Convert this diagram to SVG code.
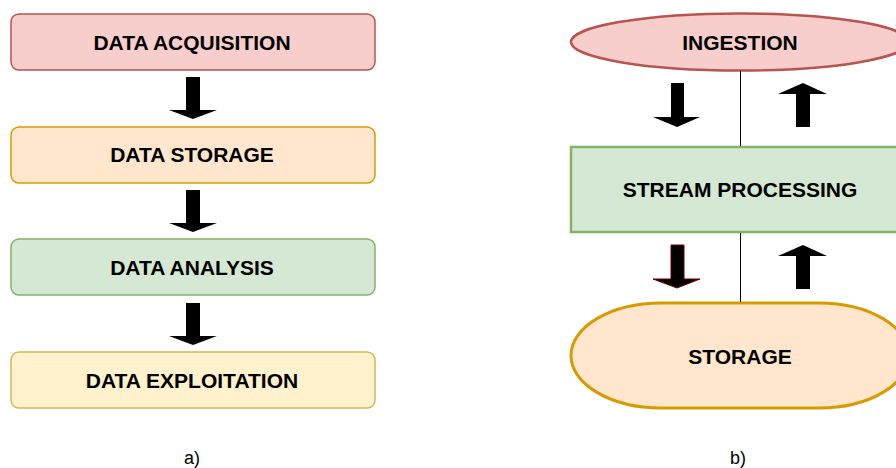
<svg xmlns="http://www.w3.org/2000/svg" width="896" height="468" viewBox="0 0 896 468">
  <style>
    .lbl { font-family: "Liberation Sans", Arial, sans-serif; font-size: 21px; font-weight: bold; fill: #000; text-anchor: middle; }
    .cap { font-family: "Liberation Sans", Arial, sans-serif; font-size: 18px; fill: #000; text-anchor: middle; }
    .box { stroke-width: 1.5; }
    .arrow { fill: #000; }
    .link { stroke: #000; stroke-width: 1; fill: none; }
  </style>
  <rect width="896" height="468" fill="#fff"/>

  <!-- a) linear pipeline -->
  <g id="data-acquisition">
    <rect class="box" x="11" y="14" width="364" height="56" rx="8" fill="#f8cecc" stroke="#b85450"/>
    <text class="lbl" x="192" y="50">DATA ACQUISITION</text>
  </g>
  <g id="data-storage">
    <rect class="box" x="11" y="127" width="364" height="56" rx="8" fill="#ffe6cc" stroke="#d79b00"/>
    <text class="lbl" x="192" y="162">DATA STORAGE</text>
  </g>
  <g id="data-analysis">
    <rect class="box" x="11" y="239" width="364" height="56" rx="8" fill="#d5e8d4" stroke="#82b366"/>
    <text class="lbl" x="192" y="275">DATA ANALYSIS</text>
  </g>
  <g id="data-exploitation">
    <rect class="box" x="11" y="352" width="364" height="56" rx="8" fill="#fff2cc" stroke="#d6b656"/>
    <text class="lbl" x="192" y="387.5">DATA EXPLOITATION</text>
  </g>
  <text class="cap" x="192" y="464">a)</text>

  <!-- b) streaming loop -->
  <g id="ingestion">
    <ellipse cx="740" cy="42" rx="169" ry="28.5" fill="#f8cecc" stroke="#b85450" stroke-width="2.5"/>
    <text class="lbl" x="740" y="50">INGESTION</text>
  </g>
  <g id="stream-processing">
    <rect x="571" y="147" width="338" height="85" fill="#d5e8d4" stroke="#82b366" stroke-width="2.5"/>
    <text class="lbl" x="740" y="197">STREAM PROCESSING</text>
  </g>
  <g id="storage">
    <rect x="571" y="303" width="338" height="105" rx="90" ry="52.5" fill="#ffe6cc" stroke="#d79b00" stroke-width="3"/>
    <text class="lbl" x="740" y="363.5">STORAGE</text>
  </g>
  <text class="cap" x="738" y="464">b)</text>

  <g id="connectors">
    <!-- block arrows of the pipeline -->
    <polygon class="arrow" points="186,77 200,77 200,110 217,110 193,119 169,110 186,110"/>
    <polygon class="arrow" points="186,190 200,190 200,223 217,223 193,232 169,223 186,223"/>
    <polygon class="arrow" points="186,303 200,303 200,336 217,336 193,345 169,336 186,336"/>

    <!-- links between streaming stages -->
    <line class="link" x1="740.5" y1="70.5" x2="740.5" y2="146"/>
    <line class="link" x1="740.5" y1="233" x2="740.5" y2="302"/>

    <!-- data flow arrows -->
    <polygon class="arrow" points="671,83 684,83 684,117 700,117 677,127 653,117 671,117"/>
    <polygon class="arrow" points="803,83 827,94 810,94 810,127 796,127 796,94 778,94"/>
    <polygon class="arrow" stroke="#6f0000" stroke-width="1" points="671,245 684,245 684,279 700,279 677,288 653,279 671,279"/>
    <polygon class="arrow" points="803,245 827,256 810,256 810,289 796,289 796,256 778,256"/>
  </g>
</svg>
